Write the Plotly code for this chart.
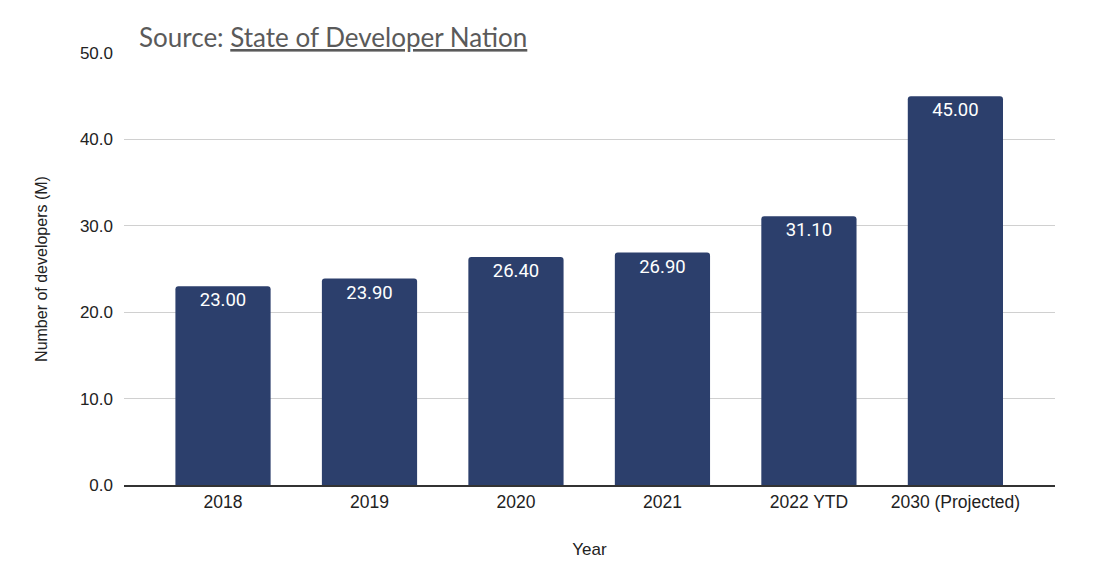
import plotly.graph_objects as go

categories = ["2018", "2019", "2020", "2021", "2022 YTD", "2030 (Projected)"]
values = [23.00, 23.90, 26.40, 26.90, 31.10, 45.00]
labels = [f"{v:.2f}" for v in values]
y_ticks = [0, 10, 20, 30, 40, 50]

AX_FONT = "Liberation Sans, Arial"

fig = go.Figure()
fig.add_trace(go.Bar(
    x=categories, y=values, text=labels,
    textposition="inside", insidetextanchor="end",
    textfont=dict(color="white", size=18.5, family="Roboto"),
    marker=dict(color="#2c3f6c", cornerradius=3, line=dict(width=0)),
    width=0.65,
))
fig.update_layout(
    width=1096, height=582,
    margin=dict(l=124, r=41, t=53, b=97),
    paper_bgcolor="white", plot_bgcolor="white",
    showlegend=False,
    title=dict(text="Source: <u>State of Developer Nation</u>",
               font=dict(family="Lato", size=26, color="#5a5a5a"),
               x=139/1096, xanchor="left", y=1-47/582, yanchor="bottom"),
    xaxis=dict(range=[-0.676, 5.68], showline=True, linecolor="#333333", linewidth=1.5,
               ticks="", tickfont=dict(family=AX_FONT, size=17.5, color="#222222"),
               title=dict(text="Year", font=dict(family=AX_FONT, size=17, color="#222222"), standoff=32)),
    yaxis=dict(range=[0, 50], tickvals=y_ticks, tickformat=".1f", gridcolor="#d0d0d0",
               zeroline=False, showline=False, ticks="", ticklabelstandoff=10,
               tickfont=dict(family=AX_FONT, size=17, color="#222222"),
               title=dict(text="Number of developers (M)", font=dict(family=AX_FONT, size=16, color="#222222"), standoff=28)),
)
fig.write_html("out.html")
